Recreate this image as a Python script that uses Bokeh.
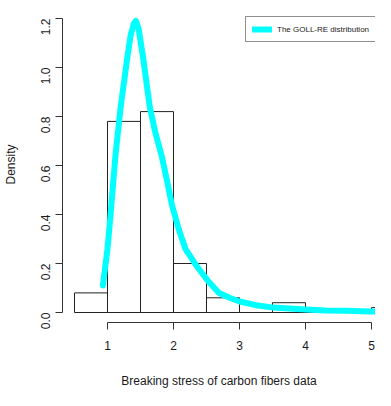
import math
from bokeh.plotting import figure
from bokeh.models import FixedTicker, Range1d, Legend, LegendItem, NumeralTickFormatter
from bokeh.embed import file_html
from bokeh.resources import INLINE

# Histogram (density scale)
bin_left = [0.5, 1.0, 1.5, 2.0, 2.5, 3.0, 3.5, 4.0, 4.5, 5.0]
bin_right = [1.0, 1.5, 2.0, 2.5, 3.0, 3.5, 4.0, 4.5, 5.0, 5.5]
density = [0.08, 0.78, 0.82, 0.20, 0.06, 0.0, 0.04, 0.0, 0.0, 0.02]

# Fitted GOLL-RE density curve
curve_x = [0.93, 1.00, 1.04, 1.08, 1.12, 1.20, 1.25, 1.30, 1.35, 1.40, 1.43, 1.47,
           1.54, 1.64, 1.72, 1.82, 1.90, 1.975, 2.08, 2.18, 2.35, 2.52, 2.69, 2.85,
           3.00, 3.25, 3.52, 3.81, 4.00, 4.30, 4.60, 5.00, 5.50]
curve_y = [0.11, 0.26, 0.38, 0.51, 0.64, 0.84, 0.94, 1.04, 1.13, 1.18, 1.19, 1.16,
           1.04, 0.84, 0.74, 0.64, 0.54, 0.44, 0.34, 0.26, 0.19, 0.13, 0.08, 0.06,
           0.045, 0.03, 0.02, 0.015, 0.012, 0.008, 0.007, 0.004, 0.002]

x_ticks = [1, 2, 3, 4, 5]
y_ticks = [0.0, 0.2, 0.4, 0.6, 0.8, 1.0, 1.2]

FONT = "Liberation Sans"
TXT = "#1a1a1a"

# fits 391x406 window with 8px page margin
p = figure(width=375, height=390,
           x_range=Range1d(0.318, 5.061), y_range=Range1d(-0.0408, 1.249),
           output_backend="svg", toolbar_location=None,
           min_border_left=62, min_border_right=0, min_border_top=6, min_border_bottom=68)
p.outline_line_color = None
p.xgrid.visible = False
p.ygrid.visible = False
p.background_fill_color = "white"

p.quad(left=bin_left, right=bin_right, top=density, bottom=0,
       fill_color=None, line_color="#222222", line_width=1)

ln = p.line(curve_x, curve_y, line_color="#00FFFF", line_width=6,
            line_cap="round", line_join="round")

# X axis
xa = p.xaxis[0]
xa.ticker = FixedTicker(ticks=x_ticks)
xa.bounds = (1, 5)
xa.axis_label = "Breaking stress of carbon fibers data"
xa.major_tick_in = 0
xa.major_tick_out = 7
xa.minor_tick_line_color = None
xa.major_label_standoff = 11
xa.axis_label_standoff = 21

# Y axis
ya = p.yaxis[0]
ya.ticker = FixedTicker(ticks=y_ticks)
ya.formatter = NumeralTickFormatter(format="0.0")
ya.bounds = (0, 1.2)
ya.axis_label = "Density"
ya.major_tick_in = 0
ya.major_tick_out = 7
ya.minor_tick_line_color = None
ya.major_label_orientation = math.pi / 2
ya.major_label_standoff = 10
ya.axis_label_standoff = 16

for ax in (xa, ya):
    ax.axis_line_color = "#333333"
    ax.major_tick_line_color = "#333333"
    ax.major_label_text_font = FONT
    ax.major_label_text_font_size = "12px"
    ax.major_label_text_color = TXT
    ax.axis_label_text_font = FONT
    ax.axis_label_text_font_size = "12px"
    ax.axis_label_text_font_style = "normal"
    ax.axis_label_text_color = TXT

legend = Legend(items=[LegendItem(label="The GOLL-RE distribution", renderers=[ln])],
                location=(183, 280), margin=0, padding=6, spacing=0,
                glyph_width=20, glyph_height=12, label_standoff=5,
                label_text_font=FONT, label_text_font_size="8px",
                label_text_color=TXT, border_line_color="#222222",
                border_line_width=1, background_fill_alpha=1.0)
p.add_layout(legend)

open("out.html", "w").write(file_html(p, INLINE))
